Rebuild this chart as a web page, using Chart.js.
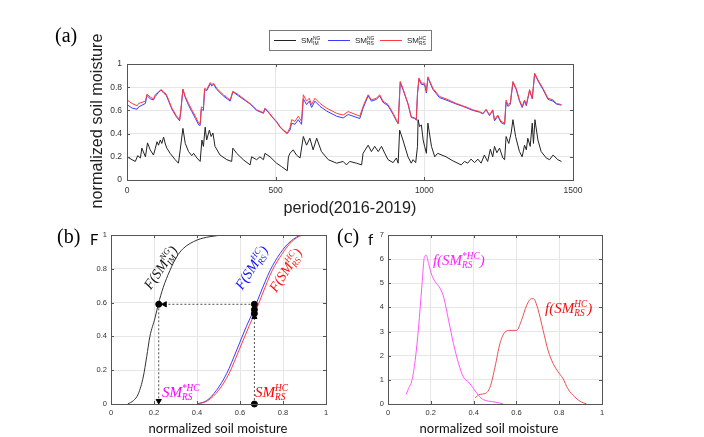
<!DOCTYPE html>
<html>
<head>
<meta charset="utf-8">
<script src="https://cdn.jsdelivr.net/npm/chart.js@4"></script>
<style>
  body { margin: 0; background: #fff; }
  #wrap { position: relative; width: 704px; height: 437px; }
  #wrap canvas { position: absolute; left: 0; top: 0; }
</style>
</head>
<body>
<div id="wrap">
  <canvas id="chart-a" width="704" height="437"></canvas>
  <canvas id="chart-b" width="704" height="437"></canvas>
  <canvas id="chart-c" width="704" height="437"></canvas>
</div>
<script>
// (a) time series (day index, normalized value)
const rsDays = [0,17,34,39,62,67,78,89,95,106,115,123,132,140,151,166,177,181,188,196,207,218,230,241,246,250,257,261,268,280,285,291,302,324,347,356,375,403,414,436,459,464,475,487,503,515,526,539,548,554,565,576,587,593,604,613,621,632,649,671,705,727,744,783,794,811,822,839,850,861,878,895,906,912,919,928,945,956,968,973,977,982,990,1001,1007,1012,1029,1051,1073,1107,1129,1140,1163,1185,1197,1208,1219,1230,1236,1247,1258,1270,1275,1281,1289,1298,1309,1320,1329,1337,1343,1354,1363,1371,1382,1399,1416,1433,1444,1461]
const smRsHC = [0.69,0.66,0.64,0.66,0.68,0.74,0.715,0.70,0.735,0.76,0.78,0.76,0.74,0.69,0.62,0.555,0.52,0.605,0.785,0.72,0.66,0.605,0.55,0.49,0.485,0.63,0.62,0.79,0.78,0.84,0.82,0.835,0.79,0.735,0.69,0.765,0.735,0.68,0.66,0.605,0.58,0.62,0.59,0.55,0.505,0.46,0.43,0.405,0.45,0.52,0.505,0.55,0.505,0.735,0.68,0.705,0.65,0.705,0.66,0.62,0.575,0.56,0.59,0.55,0.635,0.735,0.69,0.705,0.735,0.68,0.65,0.575,0.52,0.49,0.85,0.79,0.66,0.545,0.535,0.52,0.75,0.88,0.835,0.835,0.765,0.89,0.79,0.72,0.70,0.66,0.64,0.63,0.605,0.59,0.575,0.61,0.56,0.605,0.52,0.56,0.505,0.49,0.69,0.65,0.665,0.85,0.79,0.69,0.635,0.69,0.65,0.78,0.705,0.92,0.865,0.79,0.705,0.69,0.66,0.65]
const smRsNG = [0.65,0.62,0.61,0.63,0.66,0.73,0.70,0.69,0.72,0.755,0.775,0.75,0.73,0.68,0.61,0.545,0.51,0.59,0.78,0.71,0.645,0.59,0.53,0.475,0.47,0.61,0.60,0.78,0.77,0.83,0.81,0.825,0.78,0.725,0.68,0.76,0.725,0.675,0.655,0.60,0.575,0.615,0.585,0.545,0.50,0.455,0.425,0.40,0.43,0.49,0.48,0.52,0.48,0.70,0.65,0.68,0.625,0.68,0.635,0.595,0.55,0.535,0.565,0.53,0.62,0.725,0.68,0.695,0.725,0.67,0.64,0.565,0.51,0.485,0.84,0.78,0.655,0.54,0.53,0.515,0.74,0.87,0.825,0.82,0.75,0.88,0.78,0.71,0.69,0.655,0.635,0.625,0.60,0.585,0.57,0.605,0.555,0.60,0.51,0.55,0.495,0.48,0.67,0.635,0.65,0.84,0.78,0.68,0.625,0.68,0.64,0.77,0.70,0.915,0.855,0.78,0.695,0.68,0.655,0.645]
const imDays = [0,17,28,36,45,50,62,69,78,89,95,101,106,112,117,123,129,134,145,162,173,179,188,196,207,218,224,235,246,252,257,263,268,277,283,289,296,313,336,352,356,369,391,414,419,436,447,459,464,481,503,520,539,543,548,559,570,582,593,604,615,626,638,654,677,705,727,738,749,772,789,794,811,822,833,845,856,867,878,895,906,912,917,928,945,956,962,971,977,979,984,990,996,1001,1007,1012,1024,1035,1045,1073,1096,1124,1135,1146,1157,1169,1180,1191,1202,1213,1222,1230,1236,1244,1253,1264,1270,1275,1284,1292,1298,1307,1320,1329,1337,1343,1348,1356,1363,1367,1372,1382,1393,1410,1421,1433,1449,1461]
const smImNG = [0.20,0.175,0.16,0.21,0.19,0.275,0.20,0.32,0.26,0.215,0.27,0.33,0.30,0.345,0.315,0.37,0.31,0.275,0.23,0.175,0.145,0.26,0.445,0.315,0.245,0.21,0.23,0.19,0.16,0.345,0.29,0.455,0.345,0.43,0.375,0.405,0.29,0.215,0.175,0.16,0.275,0.23,0.175,0.13,0.20,0.175,0.20,0.175,0.23,0.20,0.145,0.115,0.08,0.20,0.23,0.26,0.215,0.19,0.375,0.30,0.36,0.26,0.36,0.245,0.175,0.145,0.16,0.13,0.16,0.145,0.13,0.23,0.30,0.245,0.29,0.245,0.29,0.23,0.175,0.15,0.19,0.145,0.43,0.345,0.20,0.145,0.175,0.15,0.29,0.52,0.46,0.475,0.345,0.29,0.23,0.49,0.29,0.20,0.23,0.20,0.165,0.13,0.16,0.145,0.18,0.15,0.18,0.145,0.215,0.16,0.265,0.20,0.29,0.235,0.275,0.19,0.175,0.375,0.315,0.405,0.52,0.375,0.245,0.20,0.30,0.26,0.36,0.29,0.49,0.315,0.52,0.345,0.245,0.19,0.175,0.215,0.175,0.16]

// (b) cumulative distributions
const cdfImX = [0.078,0.104,0.127,0.15,0.166,0.181,0.205,0.22,0.243,0.274,0.305,0.336,0.40,0.46,0.52]
const cdfImY = [0,0.02,0.06,0.16,0.28,0.40,0.51,0.59,0.69,0.79,0.87,0.92,0.97,0.99,1.0]
const cdfNgX = [0.40,0.445,0.49,0.538,0.585,0.63,0.662,0.693,0.74,0.786,0.833,0.895,0.925]
const cdfNgY = [0,0.02,0.08,0.18,0.32,0.46,0.55,0.65,0.79,0.89,0.96,1.0,1.0]
const cdfHcX = [0.406,0.45,0.50,0.549,0.596,0.642,0.673,0.704,0.75,0.797,0.84,0.90,0.94]
const cdfHcY = [0,0.02,0.08,0.18,0.32,0.46,0.55,0.65,0.79,0.89,0.96,1.0,1.0]
// quantile mapping guide (dotted lines, dots, arrow heads)
const guideH = [[0.667, 0.59], [0.235, 0.59]]
const guideLeft = [[0.222, 0.59], [0.222, 0.01]]
const guideRight = [[0.667, 0], [0.667, 0.59]]
const guideDots = [[0.222, 0.59], [0.667, 0.59], [0.667, 0.558], [0.667, 0.535], [0.667, 0]]
const arrowHeads = [[0.25, 0.59, -90], [0.222, 0.018, 180], [0.667, 0.515, 0]]

// (c) density
const pdfStarX = [0.085,0.096,0.112,0.127,0.143,0.158,0.171,0.179,0.19,0.205,0.221,0.244,0.26,0.283,0.306,0.33,0.352,0.376,0.40,0.422,0.446,0.469,0.50,0.536]
const pdfStarY = [0.40,0.64,0.98,1.81,3.19,4.85,6.12,6.16,5.81,5.33,5.06,4.78,4.43,3.47,2.50,1.67,1.12,0.91,0.64,0.36,0.18,0.12,0.08,0.01]
const pdfHcX = [0.407,0.43,0.453,0.477,0.50,0.523,0.547,0.57,0.601,0.624,0.648,0.67,0.68,0.70,0.725,0.748,0.772,0.795,0.818,0.84,0.873,0.904,0.927]
const pdfHcY = [0.26,0.40,0.43,0.70,1.53,2.50,2.98,3.05,3.05,3.47,4.09,4.36,4.36,3.95,3.05,2.22,1.67,1.33,1.05,0.64,0.29,0.08,0.01]

const pts = (xs, ys) => xs.map((x, i) => ({ x, y: ys[i] }))
const pairs = arr => arr.map(([x, y]) => ({ x, y }))

// stacked sub/superscript label like SM^{HC}_{RS}
function mathLabel(ctx, x, y, o) {
  const main = `${o.style || ''} ${o.size}px ${o.family}`
  const small = `${o.style || ''} ${o.size * 0.62}px ${o.family}`
  ctx.font = main
  const w1 = ctx.measureText(o.pre + 'SM').width
  const w3 = ctx.measureText(o.post || '').width
  ctx.font = small
  const w2 = Math.max(ctx.measureText(o.sup).width, ctx.measureText(o.sub).width)
  const x0 = o.align === 'center' ? x - (w1 + w2 + w3) / 2 : x
  ctx.fillStyle = o.color
  ctx.textAlign = 'left'
  ctx.textBaseline = 'alphabetic'
  ctx.font = main
  ctx.fillText(o.pre + 'SM', x0, y)
  ctx.font = small
  ctx.fillText(o.sup, x0 + w1, y - o.size * 0.42)
  ctx.fillText(o.sub, x0 + w1, y + o.size * 0.22)
  ctx.font = main
  ctx.fillText(o.post || '', x0 + w1 + w2, y)
}

function fitText(ctx, text, family, width) {
  ctx.font = `100px ${family}`
  return 100 * width / ctx.measureText(text).width
}

// MATLAB-like box with inward ticks
const frame = {
  id: 'frame',
  afterDraw(chart) {
    const { ctx, chartArea: a, scales } = chart
    ctx.save()
    ctx.strokeStyle = '#555'
    ctx.lineWidth = 1
    ctx.beginPath()
    scales.x.ticks.forEach(t => {
      const p = Math.round(scales.x.getPixelForValue(t.value)) + 0.5
      ctx.moveTo(p, a.bottom); ctx.lineTo(p, a.bottom - 3)
      ctx.moveTo(p, a.top); ctx.lineTo(p, a.top + 3)
    })
    scales.y.ticks.forEach(t => {
      const p = Math.round(scales.y.getPixelForValue(t.value)) + 0.5
      ctx.moveTo(a.left, p); ctx.lineTo(a.left + 3, p)
      ctx.moveTo(a.right, p); ctx.lineTo(a.right - 3, p)
    })
    ctx.stroke()
    ctx.strokeRect(Math.round(a.left) + 0.5, Math.round(a.top) + 0.5, Math.round(a.right - a.left), Math.round(a.bottom - a.top))
    ctx.restore()
  }
}

const axis = (min, max, step, size, pad, fix) => ({
  type: 'linear', min, max,
  grid: { color: '#e6e6e6', drawTicks: false },
  border: { display: false },
  ticks: {
    stepSize: step, padding: pad, color: '#333',
    font: { family: 'Liberation Sans', size },
    callback: v => String(Math.round(v * 100) / 100)
  },
  afterFit: fix
})
const fixY = s => { s.width = 30; s.paddingTop = 0; s.paddingBottom = 0 }
const fixX = s => { s.height = 20; s.paddingLeft = 0; s.paddingRight = 0 }

const base = (padding, scales) => ({
  responsive: false,
  animation: false,
  devicePixelRatio: 1,
  layout: { padding },
  scales,
  plugins: { legend: { display: false }, tooltip: { enabled: false } },
  elements: { point: { radius: 0 }, line: { borderWidth: 1, tension: 0 } }
})

// ---------- (a) ----------
const textsA = {
  id: 'textsA',
  afterDraw(chart) {
    const { ctx } = chart
    ctx.save()
    ctx.fillStyle = '#000'
    ctx.font = '20px "Liberation Serif"'
    ctx.textBaseline = 'middle'
    ctx.fillText('(a)', 55, 37)
    ctx.fillStyle = '#222'
    let fs = fitText(ctx, 'normalized soil moisture', '"Liberation Sans"', 175)
    ctx.font = `${fs}px "Liberation Sans"`
    ctx.textAlign = 'center'
    ctx.translate(98, 121)
    ctx.rotate(-Math.PI / 2)
    ctx.fillText('normalized soil moisture', 0, 0)
    ctx.setTransform(1, 0, 0, 1, 0, 0)
    fs = fitText(ctx, 'period(2016-2019)', '"Liberation Sans"', 133)
    ctx.font = `${fs}px "Liberation Sans"`
    ctx.fillText('period(2016-2019)', 350, 209)
    // legend
    ctx.fillStyle = '#fff'
    ctx.fillRect(269.5, 30.5, 162, 20)
    ctx.strokeStyle = '#777'
    ctx.lineWidth = 1
    ctx.strokeRect(269.5, 30.5, 162, 20)
    const entries = [
      { x: 274, color: '#222', sup: 'NG', sub: 'IM' },
      { x: 328, color: '#3c3cff', sup: 'NG', sub: 'RS' },
      { x: 380, color: '#ff3c3c', sup: 'HC', sub: 'RS' }
    ]
    entries.forEach(e => {
      ctx.strokeStyle = e.color
      ctx.beginPath()
      ctx.moveTo(e.x, 40.5); ctx.lineTo(e.x + 22, 40.5)
      ctx.stroke()
      mathLabel(ctx, e.x + 27, 43, { pre: '', sup: e.sup, sub: e.sub, size: 8, family: '"Liberation Sans"', color: '#222' })
    })
    ctx.restore()
  }
}

// lower "order" is painted on top: red over blue, as in the figure
new Chart(document.getElementById('chart-a'), {
  type: 'line',
  data: {
    datasets: [
      { data: pts(imDays, smImNG), borderColor: '#222', order: 0 },
      { data: pts(rsDays, smRsNG), borderColor: '#3c3cff', order: 2 },
      { data: pts(rsDays, smRsHC), borderColor: '#ff3c3c', order: 1 }
    ]
  },
  options: base({ left: 97, right: 131, top: 64, bottom: 237 }, {
    x: axis(0, 1500, 500, 8.5, 6, fixX),
    y: axis(0, 1, 0.2, 8.5, 5, fixY)
  }),
  plugins: [frame, textsA]
})

// ---------- (b) ----------
const mathFont = '"Liberation Serif"'
const textsB = {
  id: 'textsB',
  afterDraw(chart) {
    const { ctx, scales: { x, y } } = chart
    ctx.save()
    ctx.fillStyle = '#000'
    ctx.font = '20px "Liberation Serif"'
    ctx.textBaseline = 'middle'
    ctx.fillText('(b)', 57, 238)
    ctx.font = '15px Lato'
    ctx.fillText('F', 90, 240)
    ctx.fillStyle = '#111'
    const fs = fitText(ctx, 'normalized soil moisture', 'Lato', 139)
    ctx.font = `${fs}px Lato`
    ctx.textAlign = 'center'
    ctx.fillText('normalized soil moisture', 218, 429)
    const rotated = [
      { vx: 0.233, vy: 0.805, ang: -56, color: '#111', sup: 'NG', sub: 'IM' },
      { vx: 0.656, vy: 0.805, ang: -57, color: '#1010ff', sup: 'HC', sub: 'RS' },
      { vx: 0.814, vy: 0.79, ang: -57, color: '#ff1010', sup: 'HC', sub: 'RS' }
    ]
    rotated.forEach(r => {
      ctx.setTransform(1, 0, 0, 1, x.getPixelForValue(r.vx), y.getPixelForValue(r.vy))
      ctx.rotate(r.ang * Math.PI / 180)
      mathLabel(ctx, 0, 4, { pre: 'F(', post: ')', sup: r.sup, sub: r.sub, size: 14, family: mathFont, style: 'italic', color: r.color, align: 'center' })
    })
    ctx.setTransform(1, 0, 0, 1, 0, 0)
    mathLabel(ctx, x.getPixelForValue(0.237), y.getPixelForValue(0.041), { pre: '', sup: '*HC', sub: 'RS', size: 15, family: mathFont, style: 'italic', color: '#ff00ff' })
    mathLabel(ctx, x.getPixelForValue(0.67), y.getPixelForValue(0.041), { pre: '', sup: 'HC', sub: 'RS', size: 15, family: mathFont, style: 'italic', color: '#ff0000' })
    ctx.restore()
  }
}

const dotted = data => ({ data: pairs(data), borderColor: '#555', borderDash: [2, 2], clip: false, order: 1 })
new Chart(document.getElementById('chart-b'), {
  type: 'line',
  data: {
    datasets: [
      { data: pts(cdfImX, cdfImY), borderColor: '#333', cubicInterpolationMode: 'monotone', order: 2 },
      { data: pts(cdfNgX, cdfNgY), borderColor: '#3c3cff', cubicInterpolationMode: 'monotone', order: 3 },
      { data: pts(cdfHcX, cdfHcY), borderColor: '#ff3c3c', cubicInterpolationMode: 'monotone', order: 2 },
      dotted(guideH),
      dotted(guideLeft),
      dotted(guideRight),
      { data: pairs(guideDots), showLine: false, pointRadius: 3, pointBackgroundColor: '#000', pointBorderColor: '#000', clip: false, order: 0 },
      { data: arrowHeads.map(([x, y]) => ({ x, y })), showLine: false, pointStyle: 'triangle', pointRadius: 3,
        pointRotation: arrowHeads.map(a => a[2]), pointBackgroundColor: '#000', pointBorderColor: '#000', clip: false, order: 0 }
    ]
  },
  options: base({ left: 81, right: 378, top: 235, bottom: 13 }, {
    x: axis(0, 1, 0.2, 7.5, 4.5, fixX),
    y: axis(0, 1, 0.2, 7.5, 4, fixY)
  }),
  plugins: [frame, textsB]
})

// ---------- (c) ----------
const textsC = {
  id: 'textsC',
  afterDraw(chart) {
    const { ctx, scales: { x, y } } = chart
    ctx.save()
    ctx.fillStyle = '#000'
    ctx.font = '20px "Liberation Serif"'
    ctx.textBaseline = 'middle'
    ctx.fillText('(c)', 337, 238)
    ctx.font = '15px Lato'
    ctx.fillText('f', 368, 240)
    ctx.fillStyle = '#111'
    const fs = fitText(ctx, 'normalized soil moisture', 'Lato', 139)
    ctx.font = `${fs}px Lato`
    ctx.textAlign = 'center'
    ctx.fillText('normalized soil moisture', 489, 429)
    mathLabel(ctx, x.getPixelForValue(0.21), y.getPixelForValue(5.76), { pre: 'f(', post: ')', sup: '*HC', sub: 'RS', size: 15, family: mathFont, style: 'italic', color: '#ff22ff' })
    mathLabel(ctx, x.getPixelForValue(0.734), y.getPixelForValue(3.77), { pre: 'f(', post: ')', sup: 'HC', sub: 'RS', size: 15, family: mathFont, style: 'italic', color: '#ee1111' })
    ctx.restore()
  }
}

new Chart(document.getElementById('chart-c'), {
  type: 'line',
  data: {
    datasets: [
      { data: pts(pdfStarX, pdfStarY), borderColor: '#ff55ff', cubicInterpolationMode: 'monotone' },
      { data: pts(pdfHcX, pdfHcY), borderColor: '#e85050', cubicInterpolationMode: 'monotone' }
    ]
  },
  options: base({ left: 358, right: 102, top: 235, bottom: 13 }, {
    x: axis(0, 1, 0.2, 7.5, 4.5, fixX),
    y: axis(0, 7, 1, 7.5, 4, fixY)
  }),
  plugins: [frame, textsC]
})
</script>
</body>
</html>
